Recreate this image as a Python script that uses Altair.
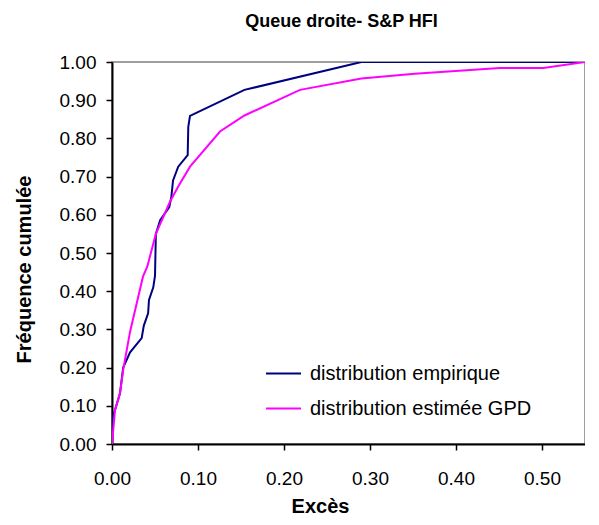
import altair as alt
import pandas as pd

emp_x = [0, 0.001, 0.0093, 0.013, 0.021, 0.0345, 0.037, 0.042, 0.043, 0.048, 0.050, 0.051,
         0.056, 0.0666, 0.069, 0.071, 0.077, 0.088, 0.0887, 0.0907, 0.154, 0.29, 0.352,
         0.451, 0.50, 0.55]
emp_y = [0, 0.07, 0.133, 0.20, 0.24, 0.277, 0.31, 0.342, 0.377, 0.41, 0.44, 0.55,
         0.586, 0.62, 0.647, 0.69, 0.726, 0.756, 0.83, 0.859, 0.927, 1.0, 1.0,
         1.0, 1.0, 1.0]

gpd_x = [0, 0.0035, 0.0093, 0.013, 0.021, 0.036, 0.041, 0.051, 0.0674, 0.077, 0.0907,
         0.1256, 0.154, 0.2186, 0.29, 0.352, 0.451, 0.5015, 0.55]
gpd_y = [0, 0.089, 0.133, 0.194, 0.294, 0.438, 0.464, 0.55, 0.634, 0.674, 0.726,
         0.818, 0.86, 0.927, 0.957, 0.969, 0.984, 0.984, 1.0]

series = ["distribution empirique", "distribution estimée GPD"]
colors = ["#000080", "#FF00FF"]
x_ticks = [0, 0.1, 0.2, 0.3, 0.4, 0.5]
y_ticks = [0, 0.1, 0.2, 0.3, 0.4, 0.5, 0.6, 0.7, 0.8, 0.9, 1.0]

rows = []
for i, (x, y) in enumerate(zip(emp_x, emp_y)):
    rows.append({"x": x, "y": y, "s": series[0], "o": i})
for i, (x, y) in enumerate(zip(gpd_x, gpd_y)):
    rows.append({"x": x, "y": y, "s": series[1], "o": i})
df = pd.DataFrame(rows)

FONT = "Liberation Sans"

chart = alt.Chart(df).mark_line(strokeWidth=2, clip=True).encode(
    x=alt.X("x:Q", scale=alt.Scale(domain=[0, 0.55], nice=False, zero=False),
            axis=alt.Axis(values=x_ticks, format=".2f", title="Excès", grid=False,
                          titleX=208, titleY=62, titleBaseline="middle",
                          labelPadding=19, labelFlush=False)),
    y=alt.Y("y:Q", scale=alt.Scale(domain=[0, 1], nice=False),
            axis=alt.Axis(values=y_ticks, format=".2f", title="Fréquence cumulée", grid=False,
                          titleX=-88, titleY=207, titleAngle=270, titleAlign="center",
                          titleBaseline="middle", labelPadding=10, labelFlush=False)),
    color=alt.Color("s:N", scale=alt.Scale(domain=series, range=colors),
                    legend=alt.Legend(title=None, orient="none", legendX=153, legendY=293,
                                      symbolType="stroke", symbolSize=1225,
                                      symbolStrokeWidth=2, labelFontSize=20,
                                      labelFont=FONT, labelColor="#000000",
                                      labelOffset=8, rowPadding=6,
                                      labelLimit=400)),
    order="o:Q",
).properties(
    width=473,
    height=382,
    title=alt.TitleParams("Queue droite- S&P HFI", fontSize=18, font=FONT, fontWeight="bold",
                          anchor="middle", frame="group", dx=-7, dy=16, offset=24,
                          baseline="alphabetic", color="#000000"),
    autosize=alt.AutoSizeParams(type="none"),
    padding={"left": 104, "top": 54, "right": 0, "bottom": 72},
).configure_view(
    stroke="#808080", strokeWidth=1.5
).configure_axis(
    domainColor="#000000", domainWidth=2, tickColor="#000000", tickSize=6, tickWidth=1.5,
    labelFont=FONT, labelFontSize=19, labelColor="#000000",
    titleFont=FONT, titleFontSize=20, titleFontWeight="bold", titleColor="#000000",
)

chart.save("out.html", embed_options={"renderer": "svg", "actions": False})
